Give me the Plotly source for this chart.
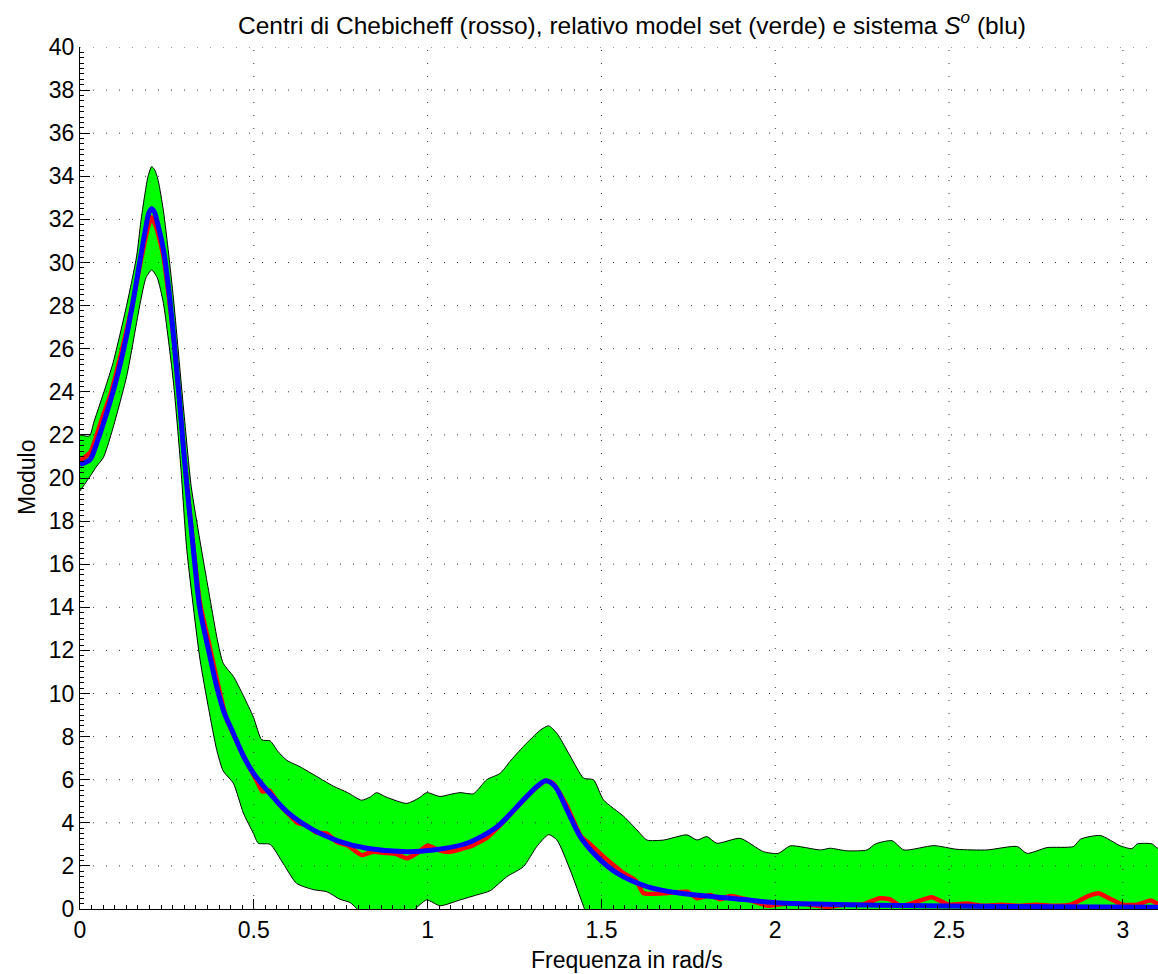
import plotly.graph_objects as go

# ---- data ----
freq_up = [0, 0.027, 0.04, 0.077, 0.096, 0.134, 0.163, 0.175, 0.185, 0.195, 0.206, 0.215, 0.225,
           0.24, 0.255, 0.269, 0.298, 0.32, 0.345, 0.374, 0.395, 0.412, 0.441, 0.47, 0.499, 0.523,
           0.547, 0.57, 0.595, 0.633, 0.681, 0.729, 0.77, 0.81, 0.835, 0.853, 0.88, 0.94, 0.975,
           0.997, 1.036, 1.06, 1.093, 1.132, 1.17, 1.209, 1.237, 1.276, 1.324, 1.348, 1.372, 1.41,
           1.449, 1.477, 1.506, 1.564, 1.602, 1.631, 1.679, 1.746, 1.775, 1.803, 1.832, 1.899,
           1.966, 2.009, 2.043, 2.13, 2.158, 2.206, 2.264, 2.288, 2.336, 2.37, 2.456, 2.523, 2.609,
           2.696, 2.724, 2.782, 2.858, 2.878, 2.935, 2.993, 3.026, 3.041, 3.084, 3.1, 3.1416]
upper = [22.0, 21.95, 22.6, 24.4, 25.4, 28.0, 30.3, 31.9, 33.0, 33.95, 34.45, 34.3, 33.8,
         32.4, 30.4, 28.3, 23.2, 19.6, 17.1, 14.4, 12.5, 11.4, 10.8, 9.9, 8.9, 7.85,
         7.8, 7.3, 6.9, 6.6, 6.15, 5.7, 5.4, 5.05, 5.2, 5.4, 5.2, 4.9, 5.15,
         5.4, 5.22, 5.3, 5.4, 5.35, 6.0, 6.3, 6.85, 7.55, 8.3, 8.5, 8.15, 7.1,
         6.07, 6.0, 5.06, 4.3, 3.67, 3.2, 3.2, 3.44, 3.2, 3.36, 3.05, 3.28,
         2.66, 2.58, 2.93, 2.74, 2.82, 2.7, 2.74, 3.02, 3.17, 2.74, 2.94, 2.77, 2.74,
         2.9, 2.58, 2.85, 2.9, 3.24, 3.41, 2.93, 2.8, 3.02, 3.02, 2.82, 2.9]

freq_lo = [0, 0.034, 0.048, 0.067, 0.091, 0.134, 0.173, 0.19, 0.206, 0.222, 0.24, 0.269, 0.29,
           0.307, 0.345, 0.37, 0.393, 0.412, 0.441, 0.47, 0.499, 0.513, 0.547, 0.585, 0.623,
           0.671, 0.71, 0.748, 0.777, 0.8, 0.83, 0.87, 0.9, 0.92, 0.96, 0.997, 1.036, 1.093,
           1.141, 1.18, 1.228, 1.276, 1.314, 1.348, 1.372, 1.41, 1.449, 1.47, 1.55, 1.8, 2.2,
           2.6, 3.1416]
lower = [19.4, 20.2, 20.55, 20.94, 22.1, 24.7, 28.1, 29.3, 29.65, 29.3, 28.1, 24.4, 20.5,
         16.7, 11.6, 9.3, 7.4, 6.4, 5.84, 4.45, 3.5, 3.05, 3.0, 2.1, 1.19,
         0.9, 0.8, 0.45, 0.3, -0.05, -0.6, -0.4, -0.02, -0.4, -0.05, 0.42, 0.15, 0.42,
         0.65, 0.85, 1.5, 1.97, 2.9, 3.45, 3.2, 1.81, 0.1, -0.8, -1.5, -2.0, -2.2,
         -2.3, -2.3]

freq_sys = [0, 0.029, 0.05, 0.086, 0.11, 0.134, 0.155, 0.173, 0.19, 0.198, 0.206, 0.214, 0.222,
            0.24, 0.255, 0.269, 0.285, 0.298, 0.312, 0.326, 0.345, 0.37, 0.393, 0.415, 0.441,
            0.47, 0.499, 0.537, 0.595, 0.671, 0.748, 0.825, 0.94, 1.017, 1.113, 1.2, 1.266,
            1.314, 1.34, 1.367, 1.401, 1.439, 1.487, 1.545, 1.631, 1.727, 1.871, 2.005, 2.2,
            2.5, 2.8, 3.1416]
sistema = [20.63, 20.86, 21.7, 23.5, 24.9, 26.6, 28.4, 30.15, 31.7, 32.3, 32.5, 32.35, 31.9,
           30.6, 28.8, 26.6, 23.8, 21.3, 18.9, 16.7, 13.9, 12.0, 10.33, 9.1, 8.16,
           7.1, 6.3, 5.53, 4.52, 3.67, 3.13, 2.82, 2.66, 2.74, 3.05, 3.82, 4.9,
           5.68, 5.95, 5.68, 4.6, 3.36, 2.43, 1.66, 1.04, 0.73, 0.5, 0.29, 0.2,
           0.14, 0.1, 0.08]

freq_cheb = [0, 0.03, 0.06, 0.09, 0.12, 0.15, 0.175, 0.195, 0.206, 0.22, 0.24, 0.27, 0.3, 0.326,
             0.345, 0.37, 0.393, 0.42, 0.45, 0.48, 0.51, 0.525, 0.545, 0.57, 0.6, 0.625, 0.65,
             0.68, 0.71, 0.74, 0.77, 0.81, 0.84, 0.88, 0.91, 0.94, 0.97, 1.0, 1.03, 1.06, 1.1,
             1.13, 1.17, 1.2, 1.25, 1.3, 1.34, 1.36, 1.4, 1.44, 1.468, 1.506, 1.53, 1.56, 1.6,
             1.621, 1.679, 1.746, 1.775, 1.813, 1.842, 1.87, 1.928, 1.98, 2.005, 2.05, 2.1, 2.15,
             2.2, 2.25, 2.3, 2.33, 2.36, 2.4, 2.45, 2.5, 2.55, 2.6, 2.65, 2.7, 2.75, 2.8, 2.85,
             2.9, 2.93, 2.96, 3.0, 3.04, 3.08, 3.1, 3.1416]
chebicheff = [20.8, 21.2, 22.6, 24.0, 25.9, 28.0, 30.1, 31.6, 32.1, 31.6, 30.3, 26.4, 21.0, 16.8,
              14.2, 12.4, 10.7, 8.9, 7.8, 6.8, 5.9, 5.45, 5.5, 4.9, 4.4, 4.0, 3.9,
              3.55, 3.5, 3.1, 2.95, 2.5, 2.65, 2.6, 2.55, 2.35, 2.6, 2.95, 2.75, 2.65, 2.8,
              2.95, 3.3, 3.75, 4.6, 5.45, 5.95, 5.85, 4.8, 3.4, 3.0, 2.43, 2.1, 1.7, 1.3,
              0.73, 0.73, 0.8, 0.5, 0.65, 0.45, 0.6, 0.4, 0.15, 0.2, 0.25, 0.2, 0.1,
              0.2, 0.2, 0.5, 0.45, 0.15, 0.3, 0.55, 0.2, 0.25, 0.15, 0.2, 0.15, 0.2, 0.15, 0.2,
              0.6, 0.73, 0.5, 0.2, 0.2, 0.4, 0.25, 0.2]

x_ticks = [0, 0.5, 1, 1.5, 2, 2.5, 3]
x_ticklabels = ["0", "0.5", "1", "1.5", "2", "2.5", "3"]
y_ticks = list(range(0, 41, 2))

title_text = "Centri di Chebicheff (rosso), relativo model set (verde) e sistema <i>S</i><sup><i>o</i></sup> (blu)"
x_title = "Frequenza in rad/s"
y_title = "Modulo"

FONT = "Liberation Sans, Arial, Helvetica, sans-serif"
W, H = 1158, 974
ML, MR, MT, MB = 80, 0, 47, 65
PW, PH = W - ML - MR, H - MT - MB

fig = go.Figure()
fig.add_trace(go.Scatter(x=freq_lo, y=lower, mode="lines",
                         line=dict(color="black", width=1, shape="spline", smoothing=0.6),
                         showlegend=False, hoverinfo="skip"))
fig.add_trace(go.Scatter(x=freq_up, y=upper, mode="lines", fill="tonexty", fillcolor="#00ff00",
                         line=dict(color="black", width=1, shape="spline", smoothing=0.6),
                         showlegend=False, hoverinfo="skip"))
fig.add_trace(go.Scatter(x=freq_cheb, y=chebicheff, mode="lines",
                         line=dict(color="#ff0000", width=4.5, shape="spline", smoothing=0.5),
                         showlegend=False))
fig.add_trace(go.Scatter(x=freq_sys, y=sistema, mode="lines",
                         line=dict(color="#0000ff", width=5, shape="spline", smoothing=0.8),
                         showlegend=False))

# dotted grid drawn above the data (MATLAB layer 'top')
grid_style = dict(color="#333333", width=1, dash="1px,12px")
for xv in x_ticks[1:]:
    fig.add_shape(type="line", xref="x", yref="paper", x0=xv, x1=xv, y0=0, y1=1,
                  line=grid_style, layer="above")
for yv in y_ticks[1:]:
    fig.add_shape(type="line", xref="paper", yref="y", x0=0, x1=1, y0=yv, y1=yv,
                  line=grid_style, layer="above")

fig.add_annotation(text=x_title, xref="paper", yref="paper",
                   x=(627 - ML) / PW, y=-(960 - (H - MB)) / PH,
                   xanchor="center", yanchor="middle", showarrow=False,
                   font=dict(family=FONT, size=23, color="black"))
fig.add_annotation(text=y_title, xref="paper", yref="paper",
                   x=(27 - ML) / PW, y=(H - MB - 478) / PH, textangle=-90,
                   xanchor="center", yanchor="middle", showarrow=False,
                   font=dict(family=FONT, size=23, color="black"))

fig.update_layout(
    width=W, height=H,
    margin=dict(l=ML, r=MR, t=MT, b=MB),
    paper_bgcolor="white", plot_bgcolor="white",
    font=dict(family=FONT, size=23, color="black"),
    title=dict(text=title_text,
               x=632 / W, xref="container", xanchor="center",
               y=1 - 25 / H, yref="container", yanchor="middle",
               font=dict(family=FONT, size=24.5, color="black")),
    xaxis=dict(range=[0, 3.101], tickvals=x_ticks, ticktext=x_ticklabels,
               showgrid=False, zeroline=False, showline=True, linecolor="black", linewidth=1,
               ticks="inside", ticklen=10, tickwidth=1, tickcolor="black",
               minor=dict(ticks="inside", ticklen=4, dtick=0.5 / 15, tickcolor="black", showgrid=False),
               tickfont=dict(size=23), layer="above traces"),
    yaxis=dict(range=[0, 40], tickvals=y_ticks,
               showgrid=False, zeroline=False, showline=True, linecolor="black", linewidth=1,
               ticks="inside", ticklen=10, tickwidth=1, tickcolor="black",
               minor=dict(ticks="inside", ticklen=4, dtick=0.25, tickcolor="black", showgrid=False),
               tickfont=dict(size=23), layer="above traces"),
)

fig.write_html("out.html")
